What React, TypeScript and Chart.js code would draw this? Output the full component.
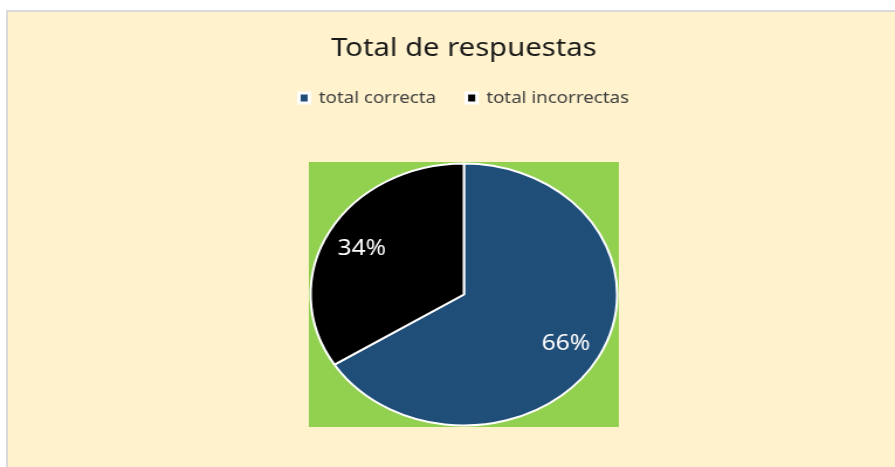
import { useEffect, useRef } from "react";
import { Chart, registerables } from "chart.js";

Chart.register(...registerables);

const titleText = "Total de respuestas";
const categories = ["total correcta", "total incorrectas"];
const percentValues = [66, 34];
const sliceColors = ["#1F4E79", "#000000"];

const CANVAS_W = 765;
const CANVAS_H = 473;
const STRETCH = 895 / CANVAS_W;

const plotBackground = {
  id: "plotBackground",
  beforeDatasetsDraw(chart: any) {
    const arc = chart.getDatasetMeta(0).data[0];
    if (!arc) return;
    const { x, y, outerRadius } = arc.getProps(["x", "y", "outerRadius"], true);
    const half = outerRadius + 1.5;
    const ctx = chart.ctx;
    ctx.save();
    ctx.fillStyle = "#92D050";
    ctx.fillRect(x - half, y - half, half * 2, half * 2);
    ctx.restore();
  },
};

const sliceLabels = {
  id: "sliceLabels",
  afterDatasetsDraw(chart: any) {
    const ctx = chart.ctx;
    const meta = chart.getDatasetMeta(0);
    const data = chart.data.datasets[0].data as number[];
    const total = data.reduce((a, b) => a + b, 0);
    ctx.save();
    ctx.fillStyle = "#FFFFFF";
    ctx.font = "21px 'Noto Sans', sans-serif";
    ctx.textAlign = "center";
    ctx.textBaseline = "middle";
    meta.data.forEach((arc: any, i: number) => {
      const { x, y, startAngle, endAngle, outerRadius } = arc.getProps(
        ["x", "y", "startAngle", "endAngle", "outerRadius"],
        true
      );
      const mid = (startAngle + endAngle) / 2;
      const r = outerRadius * 0.76;
      const pct = Math.round((data[i] / total) * 100);
      ctx.fillText(pct + "%", x + Math.cos(mid) * r, y + Math.sin(mid) * r + 2);
    });
    ctx.restore();
  },
};

export default function App() {
  const canvasRef = useRef<HTMLCanvasElement | null>(null);

  useEffect(() => {
    if (!canvasRef.current) return;
    Chart.defaults.font.family = "'Noto Sans', sans-serif";
    const chart = new Chart(canvasRef.current, {
      type: "pie",
      data: {
        labels: categories,
        datasets: [
          {
            data: percentValues,
            backgroundColor: sliceColors,
            borderColor: "#FFFFFF",
            borderWidth: 2,
          },
        ],
      },
      options: {
        animation: false,
        responsive: false,
        radius: 131,
        layout: { padding: { left: 28, right: 0, top: 0, bottom: 0 } },
        plugins: {
          title: {
            display: true,
            text: titleText,
            color: "#1A1A1A",
            font: { size: 25, weight: "normal", lineHeight: 1.2 },
            padding: { top: 34, bottom: 0 },
          },
          legend: {
            display: true,
            position: "top",
            labels: {
              color: "#404040",
              font: { size: 16 },
              boxWidth: 9,
              boxHeight: 10,
              padding: 26,
              generateLabels(c: any) {
                const base = (Chart as any).overrides.pie.plugins.legend.labels.generateLabels(c);
                return base.map((item: any) => ({ ...item, lineWidth: 3, strokeStyle: "#FFFFFF" }));
              },
            },
          },
          tooltip: { enabled: false },
        },
      } as any,
      plugins: [plotBackground, sliceLabels],
    });
    return () => chart.destroy();
  }, []);

  return (
    <div
      style={{
        position: "fixed",
        left: 0,
        top: 0,
        width: 895,
        height: 467,
        overflow: "hidden",
        background: "#FFFFFF",
      }}
    >
      <div
        style={{
          position: "absolute",
          left: 6,
          top: 10,
          width: 900,
          height: 470,
          background: "#FFF2CC",
          borderLeft: "2px solid #D9D9D9",
          borderTop: "2px solid #D9D9D9",
        }}
      />
      <canvas
        ref={canvasRef}
        width={CANVAS_W}
        height={CANVAS_H}
        style={{
          position: "absolute",
          left: 0,
          top: 0,
          transform: `scaleX(${STRETCH})`,
          transformOrigin: "0 0",
        }}
      />
    </div>
  );
}
